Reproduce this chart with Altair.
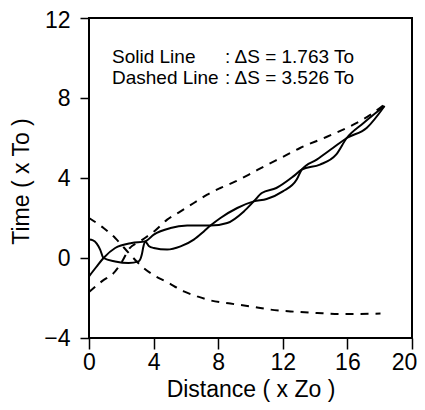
import altair as alt
import pandas as pd

# ---- data ----
solid_a_x = [0, 0.45, 0.9, 1.62, 2.65, 3.48, 4.01, 5.05, 6.08, 7.0, 7.52, 8.56, 9.59, 10.2, 10.7, 11.6, 12.65, 13.17, 14.3, 15.3, 15.96, 17.0, 18.3]
solid_a_y = [-0.92, -0.45, 0.0, 0.5, 0.75, 0.83, 1.17, 1.5, 1.62, 1.63, 1.62, 1.75, 2.33, 2.83, 3.25, 3.5, 4.08, 4.42, 4.67, 5.17, 6.0, 6.75, 7.6]

solid_b_x = [0, 0.25, 0.48, 0.69, 0.9, 1.62, 2.45, 3.07, 3.27, 3.37, 3.48, 3.7, 4.01, 4.84, 5.67, 6.49, 7.11, 7.52, 8.14, 9.18, 10.2, 11.0, 12.0, 12.86, 13.17, 14.1, 15.1, 15.96, 17.19, 18.3]
solid_b_y = [0.92, 0.88, 0.72, 0.42, 0.0, -0.17, -0.25, -0.17, 0.17, 0.58, 0.83, 0.6, 0.5, 0.42, 0.58, 0.92, 1.33, 1.62, 2.0, 2.5, 2.83, 2.95, 3.33, 3.92, 4.42, 4.92, 5.5, 6.0, 6.5, 7.6]

dash_up_x = [0, 0.79, 1.62, 2.1, 2.45, 3.2, 4.1, 4.84, 5.67, 6.49, 7.32, 8.14, 9.07, 9.9, 11.0, 12.0, 13.07, 14.7, 16.37, 17.5, 18.4]
dash_up_y = [-1.7, -1.17, -0.67, -0.1, 0.42, 0.85, 1.38, 1.92, 2.33, 2.75, 3.17, 3.5, 3.83, 4.17, 4.65, 5.05, 5.5, 6.05, 6.67, 7.2, 7.75]

dash_down_x = [0, 0.9, 1.62, 2.24, 3.27, 4.05, 4.82, 5.87, 6.7, 7.52, 8.76, 10.0, 11.24, 12.48, 14.13, 15.78, 18.05]
dash_down_y = [2.0, 1.5, 1.0, 0.45, -0.42, -0.88, -1.2, -1.67, -1.92, -2.12, -2.28, -2.42, -2.58, -2.67, -2.75, -2.8, -2.78]

x_ticks = [0, 2, 4, 6, 8, 10, 12, 14, 16, 18, 20]
y_ticks = [-4, -2, 0, 2, 4, 6, 8, 10, 12]

note_left = ["Solid Line", "Dashed Line"]
note_right = [": \u0394S = 1.763 To", ": \u0394S = 3.526 To"]

x_title = "Distance ( x Zo )"
y_title = "Time ( x To )"


def long_frame(items):
    rows = []
    for name, xs, ys in items:
        for i, (x, y) in enumerate(zip(xs, ys)):
            rows.append({"series": name, "i": i, "x": x, "y": y})
    return pd.DataFrame(rows)


df_solid = long_frame([("A", solid_a_x, solid_a_y), ("B", solid_b_x, solid_b_y)])
df_dash = long_frame([("up", dash_up_x, dash_up_y), ("down", dash_down_x, dash_down_y)])

FONT = "Liberation Sans"

x_axis = alt.Axis(
    values=x_ticks,
    labelExpr="datum.value % 4 === 0 ? datum.label : ''",
    tickSize={"condition": {"test": "datum.value % 4 === 0", "value": 11}, "value": 6},
    labelOffset={"condition": {"test": "datum.value === 20", "value": -8}, "value": 0},
    tickColor="black", tickWidth=1.5, domain=False, grid=False,
    labelFont=FONT, labelFontSize=23, labelColor="black", labelPadding=2,
    labelFlush=False, labelOverlap=False, labelBound=False,
    title=x_title, titleFont=FONT, titleFontSize=23, titleFontWeight="normal",
    titleColor="black", titleBaseline="alphabetic", titleX=161.5, titleY=58,
)
y_axis = alt.Axis(
    values=y_ticks,
    labelExpr="datum.value % 4 === 0 ? datum.label : ''",
    tickSize={"condition": {"test": "datum.value % 4 === 0", "value": 9}, "value": 4},
    labelOffset={"condition": {"test": "datum.value === 12", "value": 2}, "value": 0},
    tickColor="black", tickWidth=1.5, domain=False, grid=False,
    labelFont=FONT, labelFontSize=23, labelColor="black", labelPadding=10,
    labelOverlap=False, labelBound=False,
    title=y_title, titleFont=FONT, titleFontSize=23, titleFontWeight="normal",
    titleColor="black", titleAngle=270, titleBaseline="alphabetic",
    titleX=-61, titleY=163,
)

xs = alt.Scale(domain=[0, 20], nice=False, zero=False)
ys = alt.Scale(domain=[-4, 12], nice=False, zero=False)

solid = alt.Chart(df_solid).mark_line(
    color="black", strokeWidth=2, interpolate="monotone"
).encode(
    x=alt.X("x:Q", scale=xs, axis=x_axis),
    y=alt.Y("y:Q", scale=ys, axis=y_axis),
    detail="series:N",
    order="i:Q",
)

dashed = alt.Chart(df_dash).mark_line(
    color="black", strokeWidth=2, strokeDash=[8, 7], interpolate="monotone"
).encode(
    x=alt.X("x:Q", scale=xs),
    y=alt.Y("y:Q", scale=ys),
    detail="series:N",
    order="i:Q",
)

text_layers = []
line_y = [45, 66]
for k in range(2):
    row = pd.DataFrame({"left": [note_left[k]], "right": [note_right[k]]})
    text_layers.append(
        alt.Chart(row).mark_text(
            align="left", baseline="alphabetic", font=FONT, fontSize=19, color="black"
        ).encode(x=alt.value(23), y=alt.value(line_y[k]), text="left:N")
    )
    text_layers.append(
        alt.Chart(row).mark_text(
            align="left", baseline="alphabetic", font=FONT, fontSize=19, color="black"
        ).encode(x=alt.value(136), y=alt.value(line_y[k]), text="right:N")
    )

chart = alt.layer(dashed, solid, *text_layers).properties(
    width=323, height=320,
    autosize=alt.AutoSizeParams(type="none"),
    padding={"left": 81, "top": 10, "right": 5, "bottom": 66},
    background="white",
).configure_view(stroke="black", strokeWidth=2)

chart.save("out.html", embed_options={"renderer": "svg", "actions": False})
